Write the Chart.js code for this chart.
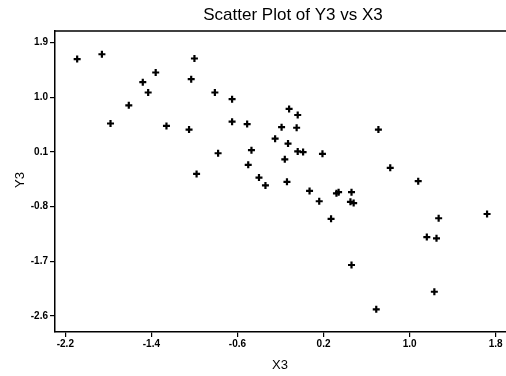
<!DOCTYPE html>
<html>
<head>
<meta charset="utf-8">
<script src="https://cdn.jsdelivr.net/npm/chart.js@4/dist/chart.umd.min.js"></script>
<style>
html,body{margin:0;padding:0;background:#fff;overflow:hidden;}
#wrap{width:506px;height:376px;position:relative;overflow:hidden;}
</style>
</head>
<body>
<div id="wrap"><canvas id="c" width="540" height="376"></canvas></div>
<script>
const chartTitle = 'Scatter Plot of Y3 vs X3';
const xTitle = 'X3';
const yTitle = 'Y3';
const x3 = [-2.09, -1.86, -1.78, -1.61, -1.48, -1.43, -1.36, -1.26, -1.05, -1.03, -1.00, -0.98, -0.81, -0.78, -0.65, -0.65, -0.51, -0.50, -0.47, -0.40, -0.34, -0.25, -0.19, -0.16, -0.12, -0.13, -0.14, -0.04, -0.05, -0.04, 0.01, 0.07, 0.19, 0.16, 0.27, 0.32, 0.34, 0.46, 0.45, 0.48, 0.46, 0.71, 0.69, 0.82, 1.08, 1.16, 1.25, 1.23, 1.27, 1.72];
const y3 = [1.63, 1.71, 0.57, 0.87, 1.25, 1.08, 1.41, 0.53, 0.47, 1.30, 1.64, -0.26, 1.08, 0.08, 0.97, 0.60, 0.56, -0.11, 0.13, -0.32, -0.45, 0.32, 0.51, -0.02, 0.81, 0.24, -0.39, 0.71, 0.50, 0.11, 0.10, -0.54, 0.07, -0.71, -1.00, -0.58, -0.56, -0.56, -0.72, -0.74, -1.76, 0.47, -2.49, -0.16, -0.38, -1.30, -1.32, -2.20, -0.99, -0.92];
const xTicks = [-2.2, -1.4, -0.6, 0.2, 1.0, 1.8];
const xTickLabels = ['-2.2', '-1.4', '-0.6', '0.2', '1.0', '1.8'];
const yTicks = [1.9, 1.0, 0.1, -0.8, -1.7, -2.6];
const yTickLabels = ['1.9', '1.0', '0.1', '-0.8', '-1.7', '-2.6'];

const points = x3.map((x, i) => ({x: x, y: y3[i]}));
const FONT = '"Liberation Sans", Arial, sans-serif';

const textPlugin = {
  id: 'texts',
  afterDraw(chart) {
    const ctx = chart.ctx;
    const a = chart.chartArea;
    ctx.save();
    ctx.strokeStyle = '#000';
    ctx.lineWidth = 1.5;
    ctx.beginPath();
    ctx.moveTo(a.left, a.top);
    ctx.lineTo(a.right, a.top);
    ctx.stroke();
    ctx.fillStyle = '#000';
    ctx.textAlign = 'center';
    ctx.textBaseline = 'middle';
    ctx.font = '17px ' + FONT;
    ctx.fillText(chartTitle, 293, 15);
    ctx.font = '13px ' + FONT;
    ctx.fillText(xTitle, 280, 365);
    ctx.translate(20, 180);
    ctx.rotate(-Math.PI / 2);
    ctx.fillText(yTitle, 0, 0);
    ctx.restore();
  }
};

new Chart(document.getElementById('c'), {
  type: 'scatter',
  data: {
    datasets: [{
      data: points,
      pointStyle: 'cross',
      radius: 3.5,
      hoverRadius: 3.5,
      borderWidth: 2.2,
      borderColor: '#000',
      backgroundColor: '#000'
    }]
  },
  options: {
    responsive: false,
    animation: false,
    devicePixelRatio: 1,
    layout: {autoPadding: false, padding: {top: 31, right: 0, left: 0, bottom: 0}},
    plugins: {legend: {display: false}, title: {display: false}, tooltip: {enabled: false}},
    scales: {
      x: {
        type: 'linear',
        min: -2.296,
        max: 2.212,
        afterFit(s) { s.height = 44; s.paddingLeft = 0; s.paddingRight = 0; },
        afterBuildTicks(s) { s.ticks = xTicks.map(v => ({value: v})); },
        grid: {display: true, drawOnChartArea: false, drawTicks: true, tickLength: 5, color: '#000', lineWidth: 1.2},
        border: {display: true, color: '#000', width: 1.5},
        ticks: {
          autoSkip: false, maxRotation: 0, padding: 1, color: '#000',
          font: {family: FONT, size: 10, weight: 'bold'},
          callback(v) { const i = xTicks.findIndex(t => Math.abs(t - v) < 1e-6); return i >= 0 ? xTickLabels[i] : ''; }
        }
      },
      y: {
        type: 'linear',
        min: -2.863,
        max: 2.093,
        afterFit(s) { s.width = 55; s.paddingTop = 0; s.paddingBottom = 0; },
        afterBuildTicks(s) { s.ticks = yTicks.map(v => ({value: v})); },
        grid: {display: true, drawOnChartArea: false, drawTicks: true, tickLength: 5, color: '#000', lineWidth: 1.2},
        border: {display: true, color: '#000', width: 1.5},
        ticks: {
          autoSkip: false, padding: 2, color: '#000',
          font: {family: FONT, size: 10, weight: 'bold'},
          callback(v) { const i = yTicks.findIndex(t => Math.abs(t - v) < 1e-6); return i >= 0 ? yTickLabels[i] : ''; }
        }
      }
    }
  },
  plugins: [textPlugin]
});
</script>
</body>
</html>
